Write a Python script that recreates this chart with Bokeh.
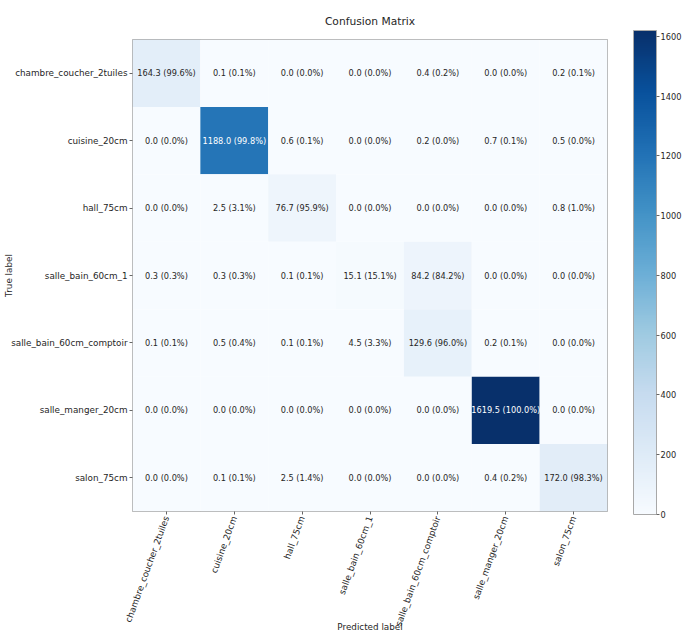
import math
from bokeh.plotting import figure
from bokeh.models import (ColumnDataSource, LinearColorMapper, ColorBar, FixedTicker,
                          FactorRange)
from bokeh.palettes import Blues256
from bokeh.embed import file_html
from bokeh.resources import INLINE

classes = ["chambre_coucher_2tuiles", "cuisine_20cm", "hall_75cm", "salle_bain_60cm_1",
           "salle_bain_60cm_comptoir", "salle_manger_20cm", "salon_75cm"]

# rows = true label, columns = predicted label
values = [
    [164.3, 0.1, 0.0, 0.0, 0.4, 0.0, 0.2],
    [0.0, 1188.0, 0.6, 0.0, 0.2, 0.7, 0.5],
    [0.0, 2.5, 76.7, 0.0, 0.0, 0.0, 0.8],
    [0.3, 0.3, 0.1, 15.1, 84.2, 0.0, 0.0],
    [0.1, 0.5, 0.1, 4.5, 129.6, 0.2, 0.0],
    [0.0, 0.0, 0.0, 0.0, 0.0, 1619.5, 0.0],
    [0.0, 0.1, 2.5, 0.0, 0.0, 0.4, 172.0],
]
percents = [
    [99.6, 0.1, 0.0, 0.0, 0.2, 0.0, 0.1],
    [0.0, 99.8, 0.1, 0.0, 0.0, 0.1, 0.0],
    [0.0, 3.1, 95.9, 0.0, 0.0, 0.0, 1.0],
    [0.3, 0.3, 0.1, 15.1, 84.2, 0.0, 0.0],
    [0.1, 0.4, 0.1, 3.3, 96.0, 0.1, 0.0],
    [0.0, 0.0, 0.0, 0.0, 0.0, 100.0, 0.0],
    [0.0, 0.1, 1.4, 0.0, 0.0, 0.2, 98.3],
]
colorbar_ticks = [0, 200, 400, 600, 800, 1000, 1200, 1400, 1600]

FONT = "DejaVu Sans"
TXT = "#262626"
TICK_PX = 8.8

# layout (pixels)
W, H = 683, 635
LEFT, TOP, FW, FH = 132, 34, 475, 478
RIGHT = W - LEFT - FW
BOTTOM = H - TOP - FH

vmax = max(max(r) for r in values)
thresh = vmax / 2.0

xs, ys, vs, labels, tcolors = [], [], [], [], []
for i, t in enumerate(classes):
    for j, pcls in enumerate(classes):
        v = values[i][j]
        xs.append(pcls)
        ys.append(t)
        vs.append(v)
        labels.append(f"{v:.1f} ({percents[i][j]:.1f}%)")
        tcolors.append("white" if v > thresh else TXT)

src = ColumnDataSource(dict(x=xs, y=ys, v=vs, label=labels, tc=tcolors))

palette = list(reversed(Blues256))
mapper = LinearColorMapper(palette=palette, low=0, high=vmax)

p = figure(width=W, height=H, output_backend="svg", toolbar_location=None,
           x_range=FactorRange(*classes), y_range=FactorRange(*reversed(classes)),
           min_border_left=LEFT, min_border_top=TOP, min_border_right=RIGHT,
           min_border_bottom=BOTTOM)
p.title.text = "Confusion Matrix"
p.title.align = "center"
p.title.text_font = FONT
p.title.text_font_size = "10.7px"
p.title.text_font_style = "normal"
p.title.text_color = TXT
p.title.standoff = 24

p.rect(x="x", y="y", width=1, height=1, source=src,
       fill_color={"field": "v", "transform": mapper}, line_color=None)
p.text(x="x", y="y", text="label", source=src, text_align="center",
       text_baseline="middle", text_font_size="8.2px", text_color="tc",
       text_font={"value": FONT})

p.grid.visible = False
p.outline_line_color = "#a8a8a8"
p.outline_line_width = 1
for ax in (p.xaxis, p.yaxis):
    ax.axis_line_color = None
    ax.major_tick_in = 0
    ax.major_tick_out = 3
    ax.major_tick_line_color = "#666666"
    ax.major_label_text_font = FONT
    ax.major_label_text_font_size = f"{TICK_PX}px"
    ax.major_label_text_color = TXT
    ax.major_label_standoff = 2
    ax.axis_label_text_font = FONT
    ax.axis_label_text_font_size = f"{TICK_PX}px"
    ax.axis_label_text_font_style = "normal"
    ax.axis_label_text_color = TXT
p.xaxis.axis_label = "Predicted label"
p.yaxis.axis_label = "True label"
p.xaxis.major_label_orientation = math.radians(70)
p.xaxis.axis_label_standoff = -10
p.yaxis.axis_label_standoff = -6

cb = ColorBar(color_mapper=mapper, ticker=FixedTicker(ticks=colorbar_ticks),
              width=23, height=FH + 6, location=(FW + 26, -3), padding=0, margin=0,
              bar_line_color="#a8a8a8",
              major_tick_in=0, major_tick_out=3, major_tick_line_color="#666666",
              label_standoff=1, major_label_text_font=FONT,
              major_label_text_font_size="8.2px", major_label_text_color=TXT,
              background_fill_color=None)
p.add_layout(cb, "center")

open("out.html", "w").write(file_html(p, INLINE))
